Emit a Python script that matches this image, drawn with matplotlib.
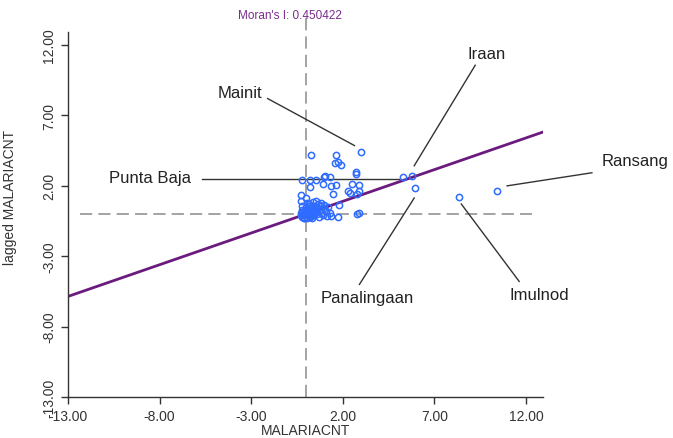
import matplotlib
matplotlib.use("Agg")
import matplotlib.pyplot as plt
import numpy as np

plt.rcParams['font.family'] = ['Liberation Sans', 'DejaVu Sans']

morans_i = 0.450422

# standardized MALARIACNT (x) and its spatial lag (y)
malaria = [0.24, 3.0, 1.62, 1.55, 1.93, 1.73, 2.7, 2.72,
           1.05, 1.3, -0.2, 0.2, 0.55, 1.0, 0.92, 1.37, 1.62,
           0.22, 2.5, 2.9, 2.3, 2.9, 2.75, 1.45, 2.4,
           5.27, 5.78, 5.96, 8.37, 10.41,
           2.91, 2.75, 1.73, 1.37, 1.82, 1.28, -0.26, 0.0, 0.55, 0.83,
           -0.3, -0.2, -0.25, -0.3, -0.2, -0.1, 0.0, 0.05, 0.1, 0.15,
           0.2, 0.25, 0.3, 0.35, 0.4, 0.45, 0.5, 0.55, 0.6, 0.65,
           0.7, 0.75, 0.8, 0.85, 0.9, 0.95, 1.0, 1.1, 1.15, 1.2,
           -0.15, 0.1, 0.3, 0.0, -0.25, 0.2, 0.45, 0.6, 0.15, -0.05,
           -0.1, 0.05, 0.25, 0.4, -0.3, 0.1, 0.35, 0.05, -0.2, 0.5]
lagged = [4.2, 4.42, 4.17, 3.6, 3.45, 3.7, 2.95, 2.85,
          2.7, 2.65, 2.45, 2.43, 2.42, 2.62, 2.12, 2.0, 2.05,
          1.93, 2.1, 2.05, 1.65, 1.65, 1.4, 1.45, 1.52,
          2.62, 2.7, 1.84, 1.2, 1.62,
          0.08, 0.0, -0.2, -0.12, 0.64, 0.1, 1.36, 1.17, 0.93, 0.81,
          0.9, 0.6, 0.3, 0.1, -0.1, -0.25, 0.0, 0.2, 0.45, 0.7,
          -0.2, 0.1, 0.35, 0.6, 0.85, -0.1, 0.2, 0.45, 0.0, 0.7,
          -0.2, 0.3, 0.55, 0.1, -0.05, 0.4, 0.65, 0.2, -0.15, 0.5,
          0.0, -0.1, -0.25, 0.5, -0.2, 0.25, 0.5, 0.3, 0.05, 0.3,
          -0.3, -0.3, -0.15, 0.15, -0.05, 0.6, -0.05, 0.8, 0.15, 0.05]

# labelled areas: name, label position, leader line start and end
labels = ["Mainit", "Iraan", "Punta Baja", "Ransang", "Panalingaan", "Imulnod"]
label_txt = [(-3.62, 8.64), (9.83, 11.43), (-8.52, 2.57), (17.95, 3.79), (3.35, -5.93), (12.72, -5.71)]
line_start = [(-2.1, 8.2), (9.23, 10.57), (-5.69, 2.5), (15.6, 2.93), (2.91, -5.0), (11.63, -4.79)]
line_end = [(2.64, 4.86), (5.9, 3.43), (5.09, 2.5), (10.97, 2.0), (5.9, 1.14), (8.47, 0.71)]

fig = plt.figure(figsize=(6.73, 4.39), dpi=100)
ax = fig.add_axes([68/673, 1-398/439, (543-68)/673, (398-33)/439])

xmin, xmax = -13, 12.93
ax.set_xlim(xmin, xmax)
ax.set_ylim(-13, 12.93)

dash = (0, (8, 4))
ax.plot([0, 0], [-13, 13.9], color='#8a8a8a', lw=1.1, linestyle=dash, clip_on=False)
ax.plot([-12.35, 12.35], [0, 0], color='#8a8a8a', lw=1.1, linestyle=dash)

for (sx, sy), (ex, ey) in zip(line_start, line_end):
    ax.plot([sx, ex], [sy, ey], color='#333333', lw=1.0, clip_on=False)

xs = np.array([xmin, xmax])
ax.plot(xs, morans_i * xs, color='#6b1a7d', lw=2.0)

ax.plot(malaria, lagged, linestyle='none', marker='o', markersize=4.5,
        markerfacecolor='none', markeredgecolor='#2f6bff', markeredgewidth=1.1)

for name, (tx, ty) in zip(labels, label_txt):
    ax.text(tx, ty, name, fontsize=12, color='#222222', ha='center', va='center', clip_on=False)

ticks = [-13, -8, -3, 2, 7, 12]
ax.set_xticks(ticks)
ax.set_yticks(ticks)
ax.set_xticklabels(['%.2f' % t for t in ticks])
ax.set_yticklabels(['%.2f' % t for t in ticks], rotation=90, va='center')
ax.tick_params(labelsize=10, colors='#333333', length=5, width=1, direction='out')

for s in ['top', 'right']:
    ax.spines[s].set_visible(False)
for s in ['left', 'bottom']:
    ax.spines[s].set_color('#333333')
    ax.spines[s].set_linewidth(1.0)

ax.set_xlabel('MALARIACNT', fontsize=10, color='#333333')
ax.set_ylabel('lagged MALARIACNT', fontsize=10, color='#333333')
ax.xaxis.set_label_coords(0.5, -0.071)
ax.yaxis.set_label_coords(-0.107, 0.55)

fig.text(290/673, 1-16/439, "Moran's I: %.6f" % morans_i, color='#7a2c8c',
         fontsize=8.5, ha='center', va='center')

fig.savefig('out.png', dpi=100)
